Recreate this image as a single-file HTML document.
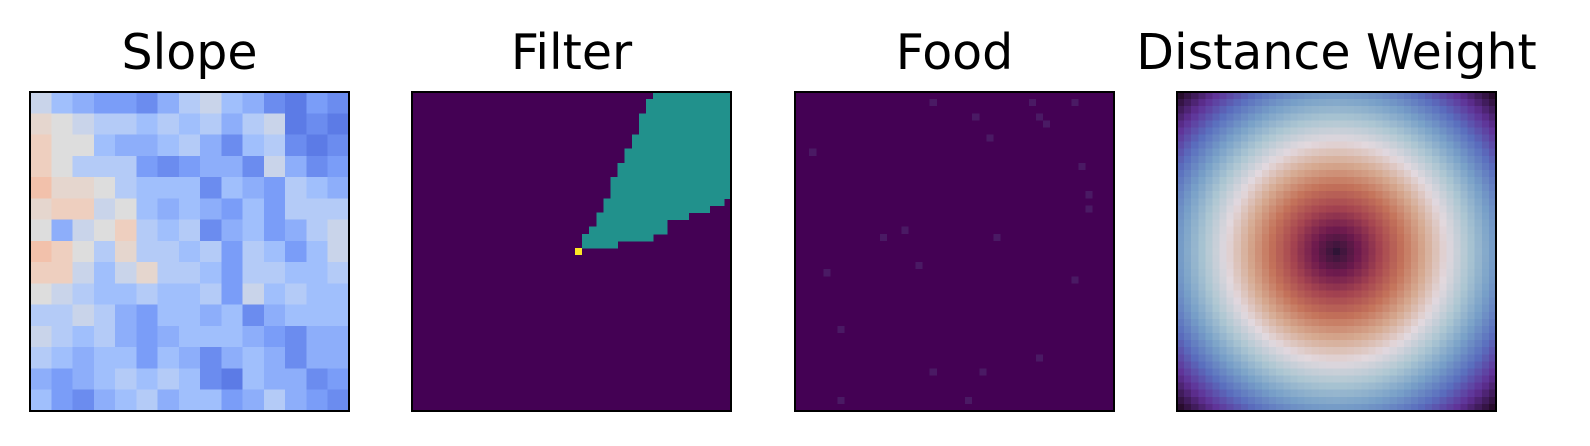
<!DOCTYPE html>
<html><head><meta charset="utf-8">
<style>
html,body{margin:0;padding:0;background:#fff;width:1590px;height:446px;overflow:hidden}
svg{position:absolute;left:0;top:0}
svg text{font-family:"DejaVu Sans","Liberation Sans",sans-serif;font-size:49px;fill:#000}
</style></head>
<body>
<svg id="fig" width="1590" height="446" viewBox="0 0 1590 446" xmlns="http://www.w3.org/2000/svg">
<g id="p0"></g>
<g id="p1"></g>
<g id="p2"></g>
<g id="p3"></g>
</svg>
<script>
const titles = ["Slope","Filter","Food","Distance Weight"];
const panelX = [30,412,795,1177];
const panelY = 92, panelS = 319;
// Slope (coarse 15x15, coolwarm normalised 0..1)
const slope = [
[0.45,0.35,0.3,0.25,0.25,0.2,0.3,0.4,0.45,0.35,0.3,0.2,0.15,0.25,0.2],
[0.55,0.5,0.45,0.4,0.4,0.35,0.4,0.35,0.4,0.3,0.4,0.45,0.15,0.2,0.15],
[0.6,0.5,0.5,0.35,0.3,0.3,0.35,0.4,0.3,0.2,0.35,0.4,0.2,0.15,0.2],
[0.6,0.5,0.4,0.4,0.4,0.25,0.2,0.25,0.3,0.3,0.2,0.45,0.3,0.2,0.25],
[0.65,0.55,0.55,0.5,0.4,0.35,0.35,0.35,0.2,0.35,0.3,0.25,0.4,0.35,0.3],
[0.55,0.6,0.6,0.45,0.5,0.35,0.3,0.35,0.3,0.25,0.35,0.25,0.4,0.4,0.4],
[0.5,0.3,0.45,0.5,0.6,0.4,0.35,0.4,0.2,0.3,0.35,0.25,0.3,0.4,0.45],
[0.65,0.6,0.5,0.4,0.55,0.4,0.4,0.35,0.4,0.25,0.4,0.35,0.25,0.35,0.45],
[0.6,0.6,0.45,0.35,0.45,0.55,0.4,0.4,0.35,0.25,0.4,0.4,0.35,0.35,0.4],
[0.5,0.45,0.4,0.35,0.35,0.4,0.35,0.35,0.4,0.25,0.45,0.35,0.4,0.35,0.35],
[0.4,0.4,0.45,0.4,0.3,0.25,0.35,0.35,0.3,0.35,0.2,0.3,0.35,0.35,0.35],
[0.45,0.4,0.35,0.4,0.3,0.25,0.3,0.35,0.35,0.35,0.3,0.25,0.2,0.3,0.3],
[0.4,0.35,0.3,0.35,0.35,0.25,0.35,0.3,0.2,0.3,0.35,0.3,0.2,0.3,0.3],
[0.3,0.25,0.3,0.35,0.4,0.35,0.4,0.35,0.2,0.15,0.35,0.3,0.3,0.2,0.25],
[0.35,0.25,0.2,0.3,0.35,0.4,0.3,0.35,0.35,0.25,0.3,0.4,0.3,0.25,0.2]];
// Filter: grid 45x45, teal spans per row [startCol,endCol)
const gridN = 45;
const filterStart = [34,33,33,32,32,32,31,31,30,30,29,29,28,28,28,27,27,26,26,25,24,24];
const filterEnd   = [45,45,45,45,45,45,45,45,45,45,45,45,45,45,45,44,42,39,36,36,34,29];
const filterAgent = [23,22]; // col,row
// Food cells (col,row)
const foodCols = [19,33,39,25,34,35,27,2,40,41,41,15,12,28,17,4,39,6,34,19,26,6,24];
const foodRows = [1,1,1,3,3,4,6,8,10,14,16,19,20,20,24,25,26,33,37,39,39,43,43];
// Distance weight colour profile (twilight_shifted-like) vs normalised radius
const distStops = [0,0.1,0.2,0.3,0.4,0.5,0.6,0.7,0.8,0.9,1.0];
const distColors = [[47,20,54],[110,26,78],[165,68,80],[196,115,90],[214,170,145],[226,216,222],[172,198,210],[120,160,200],[90,110,190],[96,48,150],[40,12,45]];
const cwStops=[0,0.125,0.25,0.375,0.5,0.625,0.75,1];
const cwCols=[[59,76,192],[85,114,225],[122,157,248],[170,199,253],[221,221,221],[242,203,183],[244,154,123],[180,4,38]];
const NS="http://www.w3.org/2000/svg";
function interp(stops,cols,v){v=Math.max(0,Math.min(1,v));for(let i=0;i<stops.length-1;i++){if(v<=stops[i+1]){const t=(v-stops[i])/(stops[i+1]-stops[i]);const a=cols[i],b=cols[i+1];return `rgb(${Math.round(a[0]+(b[0]-a[0])*t)},${Math.round(a[1]+(b[1]-a[1])*t)},${Math.round(a[2]+(b[2]-a[2])*t)})`;}}const c=cols[cols.length-1];return `rgb(${c})`;}
function rect(g,x,y,w,h,fill,name){const r=document.createElementNS(NS,"rect");r.setAttribute("x",x);r.setAttribute("y",y);r.setAttribute("width",w);r.setAttribute("height",h);r.setAttribute("fill",fill);r.setAttribute("shape-rendering","crispEdges");


g.appendChild(r);return r;}
const groups=[0,1,2,3].map(i=>document.getElementById("p"+i));
function cx(p,c,n){return panelX[p]+c*panelS/n;}
function cy(r,n){return panelY+r*panelS/n;}
// slope
{const n=slope.length;for(let r=0;r<n;r++)for(let c=0;c<n;c++)rect(groups[0],cx(0,c,n),cy(r,n),panelS/n+0.6,panelS/n+0.6,interp(cwStops,cwCols,slope[r][c]),"slope-cell");}
// filter
{const n=gridN;rect(groups[1],panelX[1],panelY,panelS,panelS,"#440154","filter-background");
for(let r=0;r<filterStart.length;r++){rect(groups[1],cx(1,filterStart[r],n),cy(r,n),(filterEnd[r]-filterStart[r])*panelS/n+0.5,panelS/n+0.5,"#21918c","filter-region-row");}
rect(groups[1],cx(1,filterAgent[0],n),cy(filterAgent[1],n),panelS/n,panelS/n,"#fde725","filter-agent-cell");}
// food
{const n=gridN;rect(groups[2],panelX[2],panelY,panelS,panelS,"#440154","food-background");
for(let i=0;i<foodCols.length;i++)rect(groups[2],cx(2,foodCols[i],n),cy(foodRows[i],n),panelS/n,panelS/n,"#4a1a64","food-cell");}
// distance weight
{const n=gridN,c0=(n-1)/2,maxd=Math.sqrt(2)*c0;for(let r=0;r<n;r++)for(let c=0;c<n;c++){const d=Math.hypot(r-c0,c-c0)/maxd;rect(groups[3],cx(3,c,n),cy(r,n),panelS/n+0.6,panelS/n+0.6,interp(distStops,distColors,d),"distance-cell");}}
// frames and titles
for(let p=0;p<4;p++){const f=document.createElementNS(NS,"rect");f.setAttribute("x",panelX[p]);f.setAttribute("y",panelY);f.setAttribute("width",panelS);f.setAttribute("height",panelS);f.setAttribute("fill","none");f.setAttribute("stroke","#000");f.setAttribute("stroke-width","2");


groups[p].appendChild(f);
const t=document.createElementNS(NS,"text");t.setAttribute("x",panelX[p]+panelS/2);t.setAttribute("y",69);t.setAttribute("text-anchor","middle");t.textContent=titles[p];


groups[p].appendChild(t);}
</script>
</body></html>
